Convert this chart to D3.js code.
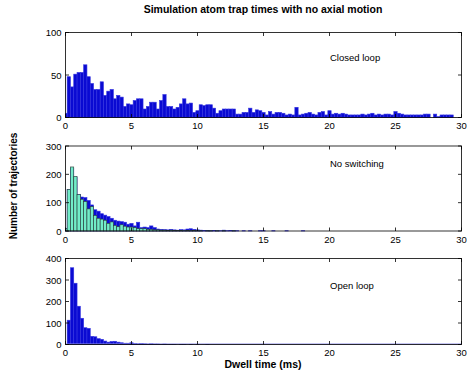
<!DOCTYPE html>
<html>
<head>
<meta charset="utf-8">
<script src="https://cdn.jsdelivr.net/npm/d3@7"></script>
<style>
  body { margin: 0; background: #fff; }
  svg text { font-family: "Liberation Sans", Arial, sans-serif; }
</style>
</head>
<body>
<svg id="chart" width="469" height="371"></svg>
<script>
// bin centres are k * 0.25 ms, k = 0..120
var binWidth = 0.25;
var xTicks = [0, 5, 10, 15, 20, 25, 30];

var closedLoop = [5,48,36,51,53,53,62,48,40,33,33,42,26,31,33,22,26,24,13,16,15,20,22,22,10,13,18,18,10,20,27,13,13,10,12,16,22,16,17,6,
  8,15,14,15,15,11,5,8,10,10,10,10,4,4,6,6,11,6,9,8,6,3,7,4,6,6,5,3,4,3,12,3,4,5,6,4,3,6,7,3,
  8,4,5,4,5,4,3,3,3,3,4,3,4,5,3,4,3,4,4,3,7,5,4,3,3,3,3,3,3,4,4,0,4,1,3,3,3,3,0,0,0];

var noSwitchBack = [8,147,220,190,129,120,118,108,92,75,70,61,56,51,45,38,35,33,31,24,27,18,31,12,14,12,18,12,7,6,5,4,6,4,3,5,4,7,8,6,
  4,3,2,2,1,2,1,1,3,1,2,1,1,0,1,0,1,0,0,1,1,0,0,1,0,0,0,1,0,0,0,0,1];

var noSwitch = [8,147,226,193,129,112,104,78,86,55,45,42,38,27,32,20,15,22,17,14,14,12,8,8,8,6,6,4,4,3,3,2,3,2,2,2,1,2,1,2,
  1,1,0,1,1,0,1,0,1,0,0,1];

var openLoop = [0,113,357,285,178,122,78,75,38,36,27,24,16,11,14,15,11,8,6,6,8,4,3,4,3,2,3,2,2,1,2,1,1,1,0,1,1,0,1,0,1,0,0,1];

var svg = d3.select("#chart"),
    left = 65.5, right = 461.5;

var panels = [
  { top: 32.5, bottom: 117.5, max: 100, ticks: [0, 50, 100], label: "Closed loop", labelY: 61 },
  { top: 146, bottom: 231, max: 300, ticks: [0, 100, 200, 300], label: "No switching", labelY: 167 },
  { top: 258.5, bottom: 344.5, max: 400, ticks: [0, 100, 200, 300, 400], label: "Open loop", labelY: 289 }
];

var x = d3.scaleLinear().domain([0, 30]).range([left, right]);

function bars(g, y, values, fill, stroke) {
  g.selectAll(null)
    .data(values.map(function (v, k) { return { c: k * binWidth, v: v }; }).filter(function (d) { return d.v > 0; }))
    .enter().append("rect")
    .attr("x", function (d) { return x(Math.max(0, d.c - binWidth / 2)); })
    .attr("width", function (d) { return x(Math.min(30, d.c + binWidth / 2)) - x(Math.max(0, d.c - binWidth / 2)); })
    .attr("y", function (d) { return y(d.v); })
    .attr("height", function (d) { return y(0) - y(d.v); })
    .attr("fill", fill)
    .attr("stroke", stroke)
    .attr("stroke-width", stroke === "none" ? 0 : 0.6);
}

var series = [[[closedLoop, "#0a0ad2", "#3434e0"]],
              [[noSwitchBack, "#0a0ad2", "#3434e0"], [noSwitch, "#72ecc8", "#2a3a36"]],
              [[openLoop, "#0a0ad2", "#3434e0"]]];

panels.forEach(function (p, i) {
  var y = d3.scaleLinear().domain([0, p.max]).range([p.bottom, p.top]);
  var g = svg.append("g");

  series[i].forEach(function (s) { bars(g, y, s[0], s[1], s[2]); });

  if (i === 2) {
    g.append("line")
      .attr("x1", x(0)).attr("x2", x(30))
      .attr("y1", y(0) - 0.5).attr("y2", y(0) - 0.5)
      .attr("stroke", "#8c8ce6").attr("stroke-width", 1.2);
  }

  // box
  g.append("rect")
    .attr("x", left).attr("y", p.top)
    .attr("width", right - left).attr("height", p.bottom - p.top)
    .attr("fill", "none").attr("stroke", "#000").attr("stroke-width", 0.8);

  // ticks inside, matlab style
  xTicks.forEach(function (t) {
    g.append("line").attr("x1", x(t)).attr("x2", x(t)).attr("y1", p.bottom).attr("y2", p.bottom - 3.5).attr("stroke", "#000").attr("stroke-width", 0.8);
    g.append("line").attr("x1", x(t)).attr("x2", x(t)).attr("y1", p.top).attr("y2", p.top + 3.5).attr("stroke", "#000").attr("stroke-width", 0.8);
    g.append("text").attr("x", x(t)).attr("y", p.bottom + 11.5)
      .attr("text-anchor", "middle").attr("font-size", 9.5).text(t);
  });
  p.ticks.forEach(function (t) {
    g.append("line").attr("x1", left).attr("x2", left + 3.5).attr("y1", y(t)).attr("y2", y(t)).attr("stroke", "#000").attr("stroke-width", 0.8);
    g.append("line").attr("x1", right).attr("x2", right - 3.5).attr("y1", y(t)).attr("y2", y(t)).attr("stroke", "#000").attr("stroke-width", 0.8);
    g.append("text").attr("x", left - 4).attr("y", y(t) + 3.5)
      .attr("text-anchor", "end").attr("font-size", 9.5).text(t);
  });

  g.append("text").attr("x", 330).attr("y", p.labelY)
    .attr("font-size", 9.5).text(p.label);
});

svg.append("text").attr("x", 263).attr("y", 13)
  .attr("text-anchor", "middle").attr("font-size", 10.5).attr("font-weight", "bold")
  .text("Simulation atom trap times with no axial motion");

svg.append("text").attr("x", 263).attr("y", 368)
  .attr("text-anchor", "middle").attr("font-size", 10.5).attr("font-weight", "bold")
  .text("Dwell time (ms)");

svg.append("text").attr("transform", "translate(17,186) rotate(-90)")
  .attr("text-anchor", "middle").attr("font-size", 10).attr("font-weight", "bold")
  .text("Number of trajectories");
</script>
</body>
</html>
